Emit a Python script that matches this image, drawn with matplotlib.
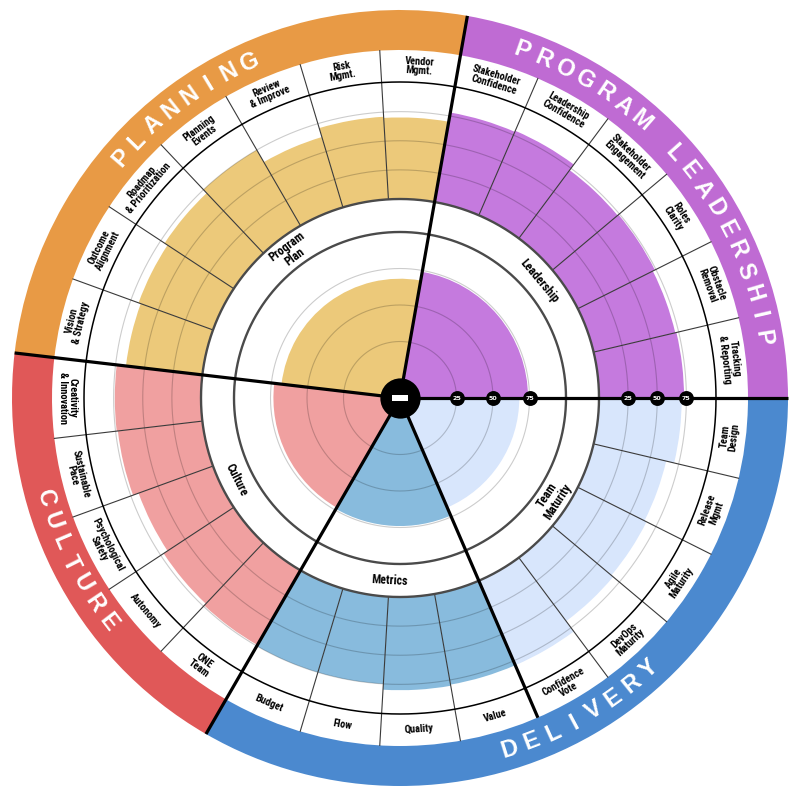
import numpy as np
import matplotlib
matplotlib.use("Agg")
import matplotlib.pyplot as plt

# sub-dimension scores (0-100), listed counter-clockwise starting at 3 o'clock
LEAD_ITEMS = ["Tracking\n& Reporting", "Obstacle\nRemoval", "Roles\nClarity",
              "Stakeholder\nEngagement", "Leadership\nConfidence", "Stakeholder\nConfidence"]
LEAD_VALS = [73, 72, 74, 73, 79, 78]
PLAN_ITEMS = ["Vendor\nMgmt.", "Risk\nMgmt.", "Review\n& Improve", "Planning\nEvents",
              "Roadmap\n& Prioritization", "Outcome\nAlignment", "Vision\n& Strategy"]
PLAN_VALS = [70, 71, 63, 75, 71, 68, 66]
CULT_ITEMS = ["Creativity\n& Innovation", "Sustainable\nPace", "Psychological\nSafety",
              "Autonomy", "ONE\nTeam"]
CULT_VALS = [74, 73, 68, 72, 74]
METR_ITEMS = ["Budget", "Flow", "Quality", "Value"]
METR_VALS = [75, 75, 80, 79]
TEAM_ITEMS = ["Confidence\nVote", "DevOps\nMaturity", "Agile\nMaturity", "Release\nMgmt",
              "Team\nDesign"]
TEAM_VALS = [79, 68, 66, 64, 71]

# inner pie: one score per dimension (same order)
INNER_LABELS = ["Leadership", "Program\nPlan", "Culture", "Metrics", "Team\nMaturity"]
INNER_VALS = [74, 68, 73, 74, 68]

# outer coloured bands; DELIVERY covers Metrics + Team Maturity
BAND_TITLES = ["PROGRAM LEADERSHIP", "PLANNING", "CULTURE", "DELIVERY"]
BAND_GROUPS = [[0], [1], [2], [3, 4]]
TICKS = [25, 50, 75]

GROUPS = [(LEAD_ITEMS, LEAD_VALS), (PLAN_ITEMS, PLAN_VALS), (CULT_ITEMS, CULT_VALS),
          (METR_ITEMS, METR_VALS), (TEAM_ITEMS, TEAM_VALS)]
BAR_COL = ["#C57ADE", "#ECC97A", "#F0A0A0", "#88BBDD", "#D8E6FC"]
BAND_COL = ["#BF6BD3", "#E89A45", "#E05858", "#4B89CF"]

# radial layout (pixels at 100 dpi)
R_HUB, K_IN = 20, 1.46        # inner pie: r = 20 + 1.46*v
R_OUT0, K_OUT = 199, 1.165    # outer bars: r = 199 + 1.165*v
R_INBAND = R_HUB + 100 * K_IN
R_LAB0, R_LAB1, R_EDGE = 316, 348, 388

LABFONT = ["Liberation Sans Narrow", "Roboto Condensed", "DejaVu Sans Condensed",
           "Liberation Sans", "DejaVu Sans"]


def rin(v):
    return R_HUB + v * K_IN


def rout(v):
    return R_OUT0 + v * K_OUT


def tang_rot(deg):
    deg = deg % 360
    return deg - 90 if deg < 180 else deg + 90 - 360


fig = plt.figure(figsize=(8.02, 7.98), dpi=100)
ax = fig.add_axes([10 / 802, 10 / 798, 780 / 802, 780 / 798], projection="polar")
ax.set_ylim(0, 390)
ax.set_axis_off()

n_tot = sum(len(g[0]) for g in GROUPS)
step = 360 / n_tot
starts = np.cumsum([0] + [len(g[0]) for g in GROUPS])
ring = np.linspace(0, 2 * np.pi, 721)

for gi, (items, vals) in enumerate(GROUPS):
    n = len(items)
    a0 = starts[gi] * step
    mids = a0 + step * (np.arange(n) + 0.5)
    heights = [rout(v) - R_OUT0 for v in vals]
    ax.bar(np.radians(mids), heights, width=np.radians(step), bottom=R_OUT0,
           color=BAR_COL[gi], linewidth=0, zorder=2)
    ax.bar(np.radians(a0 + n * step / 2), rin(INNER_VALS[gi]), width=np.radians(n * step),
           bottom=0, color=BAR_COL[gi], linewidth=0, zorder=2)
    for m, lab in zip(mids, items):
        ax.text(np.radians(m), (R_LAB0 + R_LAB1) / 2, lab, rotation=tang_rot(m),
                rotation_mode="anchor", ha="center", va="center", fontsize=7.5,
                fontweight="bold", family=LABFONT, linespacing=0.92, zorder=8)
    cm = a0 + n * step / 2
    ax.text(np.radians(cm), (R_INBAND + R_OUT0) / 2, INNER_LABELS[gi],
            rotation=tang_rot(cm), rotation_mode="anchor", ha="center", va="center",
            fontsize=8.6, fontweight="bold", family=LABFONT, linespacing=0.92, zorder=8)

# gridlines
for t in TICKS:
    ax.plot(ring, np.full_like(ring, rin(t)), color="k", alpha=0.2, lw=0.8, zorder=3)
    ax.plot(ring, np.full_like(ring, rout(t)), color="k", alpha=0.2, lw=0.8, zorder=3)

# sub-dimension dividers
for k in range(n_tot):
    a = np.radians(k * step)
    ax.plot([a, a], [R_OUT0, R_LAB1], color="#3a3a3a", lw=0.8, zorder=4)

ax.plot(ring, np.full_like(ring, R_INBAND), color="#4a4a4a", lw=1.7, zorder=4)
ax.plot(ring, np.full_like(ring, R_OUT0), color="#4a4a4a", lw=1.7, zorder=4)
ax.plot(ring, np.full_like(ring, R_LAB0), color="black", lw=1.1, zorder=4)

# outer coloured bands with spaced lettering
band_edges = []
for bi, grp in enumerate(BAND_GROUPS):
    a0 = starts[grp[0]] * step
    a1 = starts[grp[-1] + 1] * step
    band_edges.append(a0)
    ax.bar(np.radians((a0 + a1) / 2), R_EDGE - R_LAB1, width=np.radians(a1 - a0),
           bottom=R_LAB1, color=BAND_COL[bi], linewidth=0, zorder=2)
    title = BAND_TITLES[bi]
    cm = (a0 + a1) / 2
    dstep = 3.6
    n = len(title)
    for i, ch in enumerate(title):
        if cm < 180:
            ang = cm + (n - 1) / 2 * dstep - i * dstep
        else:
            ang = cm - (n - 1) / 2 * dstep + i * dstep
        ax.text(np.radians(ang), (R_LAB1 + R_EDGE) / 2, ch, rotation=tang_rot(ang),
                rotation_mode="anchor", ha="center", va="center", fontsize=17,
                fontweight="bold", color="white", family=["Liberation Sans", "DejaVu Sans"],
                zorder=8)

# thick category boundaries
for gi in range(len(GROUPS)):
    a = starts[gi] * step
    top = R_EDGE if a in band_edges else R_LAB1
    ax.plot([np.radians(a)] * 2, [0, top], color="black", lw=2.3, zorder=5,
            solid_capstyle="butt")

# scale markers on the 0-degree axis
for t in TICKS:
    for r in (rin(t), rout(t)):
        ax.scatter([0], [r], s=115, color="black", zorder=6, linewidths=0)
        ax.text(0, r, str(t), color="white", fontsize=4.6, fontweight="bold",
                ha="center", va="center", zorder=7)

# hub with minus sign
ax.scatter([0], [0], s=840, color="black", zorder=6, linewidths=0)
minus = [(-1, -0.32), (1, -0.32), (1, 0.32), (-1, 0.32), (-1, -0.32)]
ax.scatter([0], [0], s=135, marker=minus, color="white", zorder=7, linewidths=0)

fig.savefig("out.png", dpi=100, facecolor="white")
